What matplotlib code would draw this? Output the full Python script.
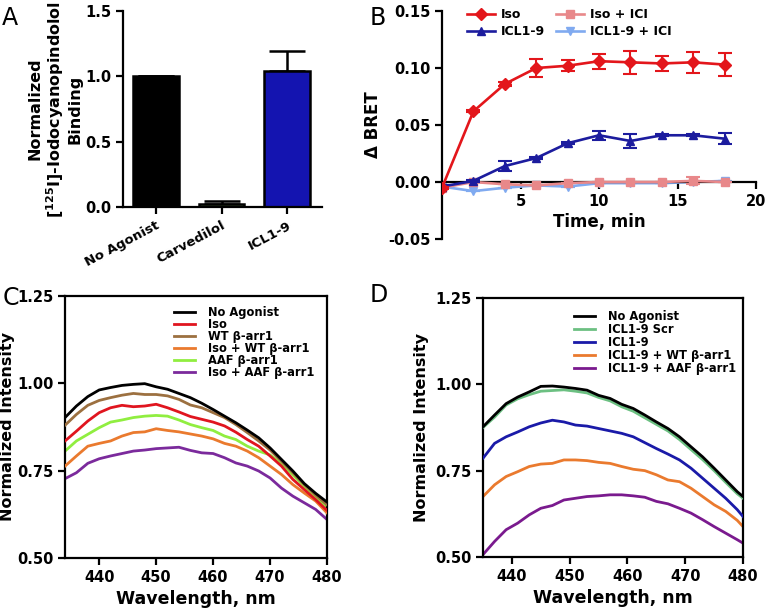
import numpy as np
import matplotlib
matplotlib.use('Agg')
import matplotlib.pyplot as plt
from matplotlib.lines import Line2D

plt.rcParams['font.family'] = ['DejaVu Sans']
plt.rcParams['font.weight'] = 'bold'
plt.rcParams['axes.labelweight'] = 'bold'
plt.rcParams['axes.linewidth'] = 1.6
plt.rcParams['xtick.major.width'] = 1.6
plt.rcParams['ytick.major.width'] = 1.6
plt.rcParams['xtick.major.size'] = 5
plt.rcParams['ytick.major.size'] = 5
plt.rcParams['mathtext.fontset'] = 'dejavusans'

# Панель A: связывание
a_groups = ['No Agonist', 'Carvedilol', 'ICL1-9']
a_values = [1.0, 0.023, 1.042]
a_errors = [0.0, 0.022, 0.152]
a_colors = ['#000000', '#4b6b35', '#1414b0']

# Панель B: BRET во времени
b_time = [0, 2, 4, 6, 8, 10, 12, 14, 16, 18]
b_iso = [-0.005, 0.062, 0.086, 0.100, 0.102, 0.106, 0.105, 0.104, 0.105, 0.103]
b_iso_err = [0.001, 0.001, 0.002, 0.0075, 0.005, 0.0067, 0.010, 0.0065, 0.009, 0.010]
b_icl = [-0.004, 0.001, 0.014, 0.021, 0.034, 0.041, 0.036, 0.041, 0.041, 0.038]
b_icl_err = [0.001, 0.001, 0.004, 0.001, 0.001, 0.004, 0.006, 0.001, 0.001, 0.005]
b_iso_ici = [-0.005, 0.000, -0.002, -0.003, -0.001, 0.000, 0.000, 0.000, 0.001, 0.000]
b_iso_ici_err = [0.0, 0.0, 0.0, 0.0, 0.0, 0.0, 0.0, 0.0, 0.003, 0.0]
b_icl_ici = [-0.004, -0.008, -0.005, -0.003, -0.004, -0.001, -0.001, -0.001, 0.000, 0.001]
b_icl_ici_err = [0.0, 0.0, 0.0, 0.0, 0.0, 0.0, 0.0, 0.0, 0.0, 0.0]

# Панель C: спектры
c_wl = [434, 436, 438, 440, 442, 444, 446, 448, 450, 452, 454, 456,
        458, 460, 462, 464, 466, 468, 470, 472, 474, 476, 478, 480]
c_no_agonist = [0.902, 0.935, 0.962, 0.981, 0.988, 0.994, 0.997, 0.999, 0.990, 0.983, 0.971, 0.959,
                0.943, 0.925, 0.906, 0.887, 0.866, 0.844, 0.815, 0.782, 0.749, 0.713, 0.685, 0.660]
c_iso = [0.835, 0.863, 0.892, 0.916, 0.930, 0.937, 0.933, 0.935, 0.940, 0.930, 0.918, 0.905,
         0.897, 0.889, 0.878, 0.860, 0.839, 0.820, 0.792, 0.763, 0.725, 0.696, 0.667, 0.636]
c_wt = [0.880, 0.911, 0.937, 0.951, 0.959, 0.966, 0.971, 0.968, 0.968, 0.964, 0.954, 0.938,
        0.930, 0.916, 0.902, 0.882, 0.859, 0.835, 0.809, 0.777, 0.744, 0.710, 0.680, 0.652]
c_iso_wt = [0.763, 0.792, 0.820, 0.828, 0.835, 0.849, 0.859, 0.861, 0.870, 0.865, 0.861, 0.855,
            0.849, 0.841, 0.828, 0.820, 0.806, 0.787, 0.763, 0.739, 0.710, 0.686, 0.663, 0.629]
c_aaf = [0.806, 0.835, 0.854, 0.873, 0.889, 0.895, 0.902, 0.906, 0.908, 0.906, 0.895, 0.882,
         0.873, 0.865, 0.849, 0.839, 0.820, 0.806, 0.795, 0.770, 0.738, 0.705, 0.675, 0.645]
c_iso_aaf = [0.727, 0.744, 0.771, 0.784, 0.792, 0.799, 0.806, 0.809, 0.813, 0.815, 0.817, 0.808,
             0.801, 0.799, 0.787, 0.772, 0.763, 0.749, 0.729, 0.700, 0.677, 0.658, 0.639, 0.610]

# Панель D: спектры
d_wl = [435, 437, 439, 441, 443, 445, 447, 449, 451, 453, 455, 457,
        459, 461, 463, 465, 467, 469, 471, 473, 475, 477, 479, 480]
d_no_agonist = [0.877, 0.911, 0.944, 0.963, 0.978, 0.994, 0.995, 0.992, 0.988, 0.983, 0.968, 0.959,
                0.942, 0.930, 0.911, 0.891, 0.872, 0.848, 0.819, 0.790, 0.757, 0.723, 0.689, 0.675]
d_scr = [0.875, 0.905, 0.940, 0.958, 0.970, 0.980, 0.982, 0.984, 0.980, 0.975, 0.962, 0.952,
         0.935, 0.922, 0.903, 0.884, 0.865, 0.840, 0.811, 0.782, 0.750, 0.716, 0.683, 0.670]
d_icl = [0.786, 0.829, 0.848, 0.862, 0.877, 0.888, 0.896, 0.891, 0.882, 0.879, 0.872, 0.865,
         0.858, 0.848, 0.831, 0.814, 0.798, 0.781, 0.757, 0.728, 0.699, 0.670, 0.637, 0.617]
d_icl_wt = [0.675, 0.709, 0.733, 0.747, 0.762, 0.769, 0.771, 0.781, 0.781, 0.779, 0.774, 0.771,
            0.762, 0.754, 0.750, 0.738, 0.723, 0.718, 0.699, 0.675, 0.651, 0.632, 0.606, 0.588]
d_icl_aaf = [0.507, 0.545, 0.579, 0.598, 0.622, 0.641, 0.649, 0.665, 0.670, 0.675, 0.677, 0.680,
             0.680, 0.677, 0.673, 0.661, 0.654, 0.641, 0.627, 0.608, 0.588, 0.569, 0.550, 0.540]

fig = plt.figure(figsize=(7.65, 6.16), dpi=100)

# ---- A ----
axA = fig.add_axes([0.1608, 0.6640, 0.2601, 0.3182])
xa = np.arange(len(a_groups))
axA.bar(xa, a_values, width=0.70, color=a_colors, edgecolor='black', linewidth=1.8, zorder=2)
axA.errorbar(xa, a_values, yerr=[np.zeros(3), a_errors], fmt='none', ecolor='black',
             elinewidth=1.8, capsize=13, capthick=1.8, zorder=1)
axA.set_xlim(-0.5, 2.53)
axA.set_ylim(0, 1.5)
axA.set_yticks([0.0, 0.5, 1.0, 1.5])
axA.set_yticklabels(['0.0', '0.5', '1.0', '1.5'], fontsize=10.5)
axA.set_xticks(xa)
axA.set_xticklabels(a_groups, rotation=28, ha='right', rotation_mode='anchor', fontsize=9.5)
axA.spines['top'].set_visible(False)
axA.spines['right'].set_visible(False)
axA.set_ylabel('Normalized\n[$\\mathbf{^{125}}$I]-Iodocyanopindolol\nBinding', fontsize=11.5,
               linespacing=1.1, labelpad=2)

# ---- B ----
axB = fig.add_axes([0.5778, 0.6120, 0.4105, 0.3701])
series_b = [
    ('ICL1-9 + ICI', b_icl_ici, b_icl_ici_err, '#80aaf0', 'v', 2),
    ('Iso + ICI', b_iso_ici, b_iso_ici_err, '#e8888a', 's', 3),
    ('ICL1-9', b_icl, b_icl_err, '#1c1c9e', '^', 4),
    ('Iso', b_iso, b_iso_err, '#e3161b', 'D', 5),
]
handles = {}
for name, vals, errs, col, mk, z in series_b:
    axB.errorbar(b_time, vals, yerr=errs, color=col, marker=mk, markersize=6,
                 linewidth=1.9, elinewidth=1.5, capsize=5, capthick=1.5, zorder=z)
    handles[name] = Line2D([], [], color=col, marker=mk, markersize=6, linewidth=1.9)
axB.set_xlim(0, 20)
axB.set_ylim(-0.05, 0.15)
axB.spines['top'].set_visible(False)
axB.spines['right'].set_visible(False)
axB.spines['bottom'].set_position(('data', 0))
axB.set_xticks([5, 10, 15, 20])
axB.set_xticklabels(['5', '10', '15', '20'], fontsize=10.5)
axB.set_yticks([-0.05, 0.0, 0.05, 0.10, 0.15])
axB.set_yticklabels(['-0.05', '0.00', '0.05', '0.10', '0.15'], fontsize=10.5)
axB.set_xlabel('Time, min', fontsize=12, labelpad=3)
axB.set_ylabel('Δ BRET', fontsize=12, labelpad=4)
order = ['Iso', 'ICL1-9', 'Iso + ICI', 'ICL1-9 + ICI']
axB.legend([handles[k] for k in order], order, ncol=2, frameon=False, fontsize=9,
           loc='upper left', bbox_to_anchor=(0.06, 1.04), handlelength=2.2,
           handletextpad=0.5, columnspacing=0.9, labelspacing=0.3, borderpad=0)

# ---- C ----
axC = fig.add_axes([0.0850, 0.0942, 0.3425, 0.4253])
c_series = [
    ('AAF β-arr1', c_aaf, '#90ee40', 1),
    ('No Agonist', c_no_agonist, '#000000', 6),
    ('Iso', c_iso, '#e0151f', 4),
    ('WT β-arr1', c_wt, '#9c7040', 5),
    ('Iso + WT β-arr1', c_iso_wt, '#ea7a2e', 3),
    ('Iso + AAF β-arr1', c_iso_aaf, '#7b2a9c', 2),
]
hc = {}
for name, vals, col, z in c_series:
    hc[name], = axC.plot(c_wl, vals, color=col, linewidth=2.0, zorder=z)
c_order = ['No Agonist', 'Iso', 'WT β-arr1', 'Iso + WT β-arr1', 'AAF β-arr1', 'Iso + AAF β-arr1']
axC.legend([hc[k] for k in c_order], c_order, frameon=False, fontsize=8.3, loc='upper left',
           bbox_to_anchor=(0.395, 0.985), handlelength=1.8, handletextpad=1.1,
           labelspacing=-0.08, borderpad=0)
axC.set_xlim(434, 480)
axC.set_ylim(0.5, 1.25)
axC.set_xticks([440, 450, 460, 470, 480])
axC.set_xticklabels(['440', '450', '460', '470', '480'], fontsize=10.5)
axC.set_yticks([0.50, 0.75, 1.00, 1.25])
axC.set_yticklabels(['0.50', '0.75', '1.00', '1.25'], fontsize=10.5)
axC.set_xlabel('Wavelength, nm', fontsize=12.5, labelpad=4)
axC.set_ylabel('Normalized Intensity', fontsize=11.5, labelpad=1)

# ---- D ----
axD = fig.add_axes([0.6314, 0.0958, 0.3399, 0.4205])
d_series = [
    ('ICL1-9 + AAF β-arr1', d_icl_aaf, '#7a1a8e', 1),
    ('ICL1-9 + WT β-arr1', d_icl_wt, '#ea7a2e', 2),
    ('ICL1-9', d_icl, '#1a1aa8', 3),
    ('ICL1-9 Scr', d_scr, '#6cc082', 4),
    ('No Agonist', d_no_agonist, '#000000', 5),
]
hd = {}
for name, vals, col, z in d_series:
    hd[name], = axD.plot(d_wl, vals, color=col, linewidth=2.0, zorder=z)
d_order = ['No Agonist', 'ICL1-9 Scr', 'ICL1-9', 'ICL1-9 + WT β-arr1', 'ICL1-9 + AAF β-arr1']
axD.legend([hd[k] for k in d_order], d_order, frameon=False, fontsize=8.3, loc='upper left',
           bbox_to_anchor=(0.327, 0.975), handlelength=1.8, handletextpad=1.2,
           labelspacing=0.0, borderpad=0)
axD.set_xlim(435, 480)
axD.set_ylim(0.5, 1.25)
axD.set_xticks([440, 450, 460, 470, 480])
axD.set_xticklabels(['440', '450', '460', '470', '480'], fontsize=10.5)
axD.set_yticks([0.50, 0.75, 1.00, 1.25])
axD.set_yticklabels(['0.50', '0.75', '1.00', '1.25'], fontsize=10.5)
axD.set_xlabel('Wavelength, nm', fontsize=12.5, labelpad=4)
axD.set_ylabel('Normalized Intensity', fontsize=11.5, labelpad=4)

# Буквы панелей
for letter, x, y in [('A', 0.003, 0.990), ('B', 0.483, 0.990), ('C', 0.003, 0.535), ('D', 0.483, 0.540)]:
    fig.text(x, y, letter, fontsize=17, fontweight='normal', va='top', ha='left')

plt.savefig('out.png', dpi=100)
